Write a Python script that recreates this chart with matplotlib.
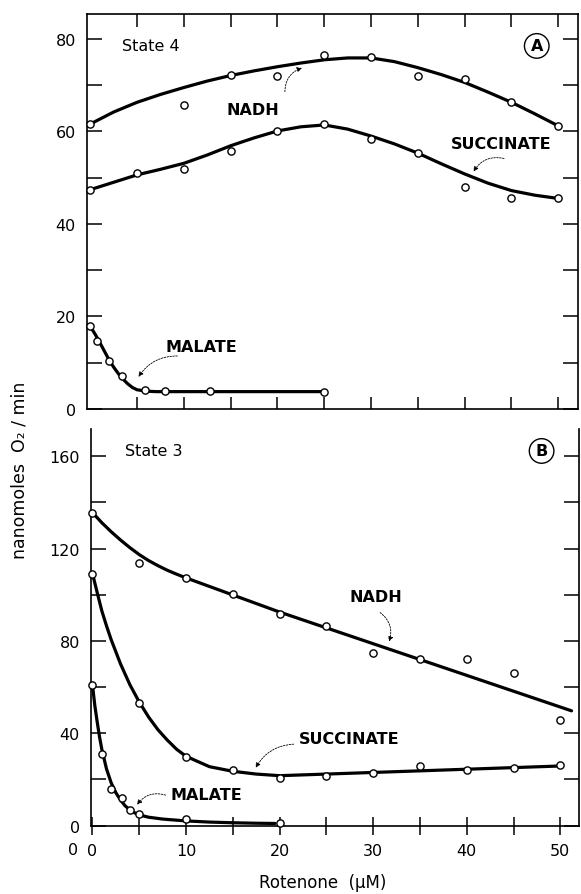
import matplotlib
matplotlib.use("Agg")
import matplotlib.pyplot as plt
from matplotlib.ticker import MultipleLocator, FixedLocator

plt.rcParams['font.family'] = ['DejaVu Sans']

# ---- State 4 (panel A) measured points ----
rot4 = [0, 5, 10, 15, 20, 25, 30, 35, 40, 45, 50]
nadh4 = [61.6, None, 65.7, 72.2, 71.9, 76.6, 76.2, 72.0, 71.3, 66.3, 61.2]
succ4 = [47.4, 51.0, 51.8, 55.8, 60.1, 61.7, 58.3, 55.3, 47.9, 45.6, 45.5]
mal4_x = [0, 0.75, 2, 3.4, 5.8, 8, 12.8, 25]
mal4_y = [17.8, 14.6, 10.4, 7.1, 4.1, 3.9, 3.9, 3.7]

# hand-drawn fitted curves
nadh4_fit_x = [0, 2.5, 5, 7.5, 10, 12.5, 15, 17.5, 20, 22.5, 25, 27.5, 30,
               32.5, 35, 37.5, 40, 42.5, 45, 47.5, 50]
nadh4_fit_y = [61.6, 64.2, 66.3, 68.0, 69.5, 70.9, 72.1, 73.1, 74.0, 74.8,
               75.5, 75.9, 75.9, 75.1, 73.8, 72.3, 70.6, 68.5, 66.3, 63.8, 61.2]
succ4_fit_x = [0, 2.5, 5, 7.5, 10, 12.5, 15, 17.5, 20, 22.5, 25, 27.5, 30,
               32.5, 35, 37.5, 40, 42.5, 45, 47.5, 50]
succ4_fit_y = [47.4, 49.0, 50.6, 51.8, 53.1, 54.9, 56.9, 58.6, 60.1, 61.0,
               61.4, 60.5, 59.0, 57.3, 55.3, 53.0, 50.8, 48.8, 47.2, 46.2, 45.5]
mal4_fit_x = [0, 0.5, 1, 1.5, 2, 2.5, 3, 3.5, 4, 4.5, 5, 6, 7, 25]
mal4_fit_y = [17.8, 16.2, 14.4, 12.5, 10.6, 9.0, 7.6, 6.4, 5.4, 4.6, 4.1, 3.8, 3.7, 3.7]

# ---- State 3 (panel B) measured points ----
rot3 = [0, 5, 10, 15, 20, 25, 30, 35, 40, 45, 50]
nadh3 = [135.6, 113.6, 107.4, 100.2, 91.6, 86.5, 74.9, 72.1, 72.1, 66.3, 45.6]
succ3 = [109.2, 53.3, 29.5, 24.0, 20.4, 21.5, 22.7, 25.8, 24.0, 25.1, 26.1]
mal3_x = [0, 1, 2, 3.2, 4, 5, 10, 20]
mal3_y = [60.8, 30.9, 15.7, 11.8, 6.8, 4.9, 3.0, 0.9]

nadh3_fit_x = [0, 1, 2, 3, 4, 5, 6, 7, 8, 9, 10, 12.5, 15, 17.5, 20, 51.2]
nadh3_fit_y = [135.6, 131.2, 127.3, 123.7, 120.4, 117.4, 114.8, 112.6, 110.6,
               108.9, 107.3, 103.6, 99.9, 96.2, 92.5, 49.7]
succ3_fit_x = [0, 0.5, 1, 1.5, 2, 3, 4, 5, 6, 7, 8, 9, 10, 12.5, 15, 17.5, 20, 50]
succ3_fit_y = [109.2, 101.0, 93.0, 86.5, 80.5, 70.0, 61.0, 53.5, 47.0, 41.5,
               37.0, 33.0, 30.0, 25.5, 23.5, 22.3, 21.6, 25.8]
mal3_fit_x = [0, 0.25, 0.5, 0.75, 1, 1.5, 2, 2.5, 3, 3.5, 4, 4.5, 5, 6, 7.5,
              10, 12.5, 15, 17.5, 19.5]
mal3_fit_y = [60.8, 52.0, 45.0, 38.5, 33.0, 24.5, 18.5, 14.2, 11.0, 8.5, 6.8,
              5.5, 4.6, 3.6, 2.8, 2.0, 1.5, 1.2, 1.0, 0.9]

LW = 2.3
MK = dict(marker='o', ms=5.2, mfc='white', mec='black', mew=1.0,
          ls='none', zorder=5, clip_on=False)
LEAD = dict(arrowstyle='-|>', color='black', lw=0.6, linestyle=(0, (2, 1.5)),
            mutation_scale=7)
TICKFS = 11.5

fig = plt.figure(figsize=(5.81, 8.95), dpi=100)
axA = fig.add_axes([0.1497, 0.5422, 0.845, 0.441])
axB = fig.add_axes([0.1566, 0.0765, 0.840, 0.443])


def pts(x, y):
    return [a for a, b in zip(x, y) if b is not None], [b for b in y if b is not None]


# ---- panel A ----
axA.plot(nadh4_fit_x, nadh4_fit_y, color='black', lw=LW, solid_capstyle='round')
axA.plot(succ4_fit_x, succ4_fit_y, color='black', lw=LW, solid_capstyle='round')
axA.plot(mal4_fit_x, mal4_fit_y, color='black', lw=LW, solid_capstyle='round')
axA.plot(*pts(rot4, nadh4), **MK)
axA.plot(*pts(rot4, succ4), **MK)
axA.plot(mal4_x, mal4_y, **MK)

axA.set_xlim(-0.35, 52.1)
axA.set_ylim(0, 85.4)
axA.xaxis.set_major_locator(FixedLocator([5, 10, 15, 20, 25, 30, 35, 40, 45, 50]))
axA.yaxis.set_major_locator(MultipleLocator(20))
axA.yaxis.set_minor_locator(MultipleLocator(10))
axA.tick_params(axis='x', which='both', direction='in', top=True, bottom=True,
                labelbottom=False, length=9, width=1.1)
axA.tick_params(axis='y', which='both', direction='in', left=True, right=False,
                length=11, width=1.1, pad=8, labelsize=TICKFS)
for s in axA.spines.values():
    s.set_linewidth(1.2)
# right-side ticks every 10
axA_r = axA.secondary_yaxis('right')
axA_r.yaxis.set_major_locator(MultipleLocator(10))
axA_r.tick_params(direction='in', length=11, width=1.1, labelright=False)
axA_r.spines['right'].set_visible(False)

axA.text(3.4, 78.5, 'State 4', fontsize=11.5, ha='left', va='center')
axA.text(47.7, 78.5, 'A', fontsize=11.5, fontweight='bold', ha='center', va='center',
         bbox=dict(boxstyle='circle,pad=0.3', fc='white', ec='black', lw=1.0))
axA.text(17.4, 64.8, 'NADH', fontsize=11.5, fontweight='bold', ha='center', va='center')
axA.annotate('', xy=(22.9, 73.9), xytext=(20.8, 68.0),
             arrowprops=dict(connectionstyle='arc3,rad=-0.4', **LEAD))
axA.text(43.9, 57.3, 'SUCCINATE', fontsize=11.5, fontweight='bold', ha='center', va='center')
axA.annotate('', xy=(40.8, 50.8), xytext=(44.5, 54.0),
             arrowprops=dict(connectionstyle='arc3,rad=0.4', **LEAD))
axA.text(11.9, 13.4, 'MALATE', fontsize=11.5, fontweight='bold', ha='center', va='center')
axA.annotate('', xy=(5.0, 6.4), xytext=(9.6, 11.4),
             arrowprops=dict(connectionstyle='arc3,rad=0.3', **LEAD))

# ---- panel B ----
axB.plot(nadh3_fit_x, nadh3_fit_y, color='black', lw=LW, solid_capstyle='round')
axB.plot(succ3_fit_x, succ3_fit_y, color='black', lw=LW, solid_capstyle='round')
axB.plot(mal3_fit_x, mal3_fit_y, color='black', lw=LW, solid_capstyle='round')
axB.plot(rot3, nadh3, **MK)
axB.plot(rot3, succ3, **MK)
axB.plot(mal3_x, mal3_y, **MK)

axB.set_xlim(-0.16, 52.0)
axB.set_ylim(0, 171.8)
axB.spines['top'].set_visible(False)
for s in axB.spines.values():
    s.set_linewidth(1.2)
axB.xaxis.set_major_locator(MultipleLocator(10))
axB.xaxis.set_minor_locator(MultipleLocator(5))
axB.yaxis.set_major_locator(MultipleLocator(40))
axB.yaxis.set_minor_locator(MultipleLocator(20))
axB.tick_params(axis='x', which='both', direction='inout', top=False, length=13,
                width=1.1, pad=6.3, labelsize=TICKFS)
axB.tick_params(axis='y', which='both', direction='in', left=True, right=False,
                length=11, width=1.1, pad=8, labelsize=TICKFS)
axB_r = axB.secondary_yaxis('right')
axB_r.yaxis.set_major_locator(MultipleLocator(20))
axB_r.tick_params(direction='in', length=11, width=1.1, labelright=False)
axB_r.spines['right'].set_visible(False)

axB.text(3.5, 162.3, 'State 3', fontsize=11.5, ha='left', va='center')
axB.text(48.0, 162.3, 'B', fontsize=11.5, fontweight='bold', ha='center', va='center',
         bbox=dict(boxstyle='circle,pad=0.3', fc='white', ec='black', lw=1.0))
axB.text(30.3, 99.1, 'NADH', fontsize=11.5, fontweight='bold', ha='center', va='center')
axB.annotate('', xy=(31.6, 78.6), xytext=(30.5, 93.0),
             arrowprops=dict(connectionstyle='arc3,rad=-0.4', **LEAD))
axB.text(27.4, 37.5, 'SUCCINATE', fontsize=11.5, fontweight='bold', ha='center', va='center')
axB.annotate('', xy=(17.3, 24.0), xytext=(21.8, 35.3),
             arrowprops=dict(connectionstyle='arc3,rad=0.3', **LEAD))
axB.text(12.2, 13.6, 'MALATE', fontsize=11.5, fontweight='bold', ha='center', va='center')
axB.annotate('', xy=(4.6, 8.0), xytext=(8.1, 12.8),
             arrowprops=dict(connectionstyle='arc3,rad=0.4', **LEAD))

# stray zero printed under the y axis in the original
fig.text(73 / 581, 1 - 851 / 895, '0', fontsize=TICKFS, ha='center', va='center')

fig.text(323 / 581, 1 - 883 / 895, 'Rotenone  (\u03bcM)', fontsize=12,
         ha='center', va='center')
fig.text(20 / 581, 1 - 470 / 895, 'nanomoles  O\u2082 / min', fontsize=12.5,
         rotation=90, ha='center', va='center')

fig.savefig('out.png', dpi=100, facecolor='white')
